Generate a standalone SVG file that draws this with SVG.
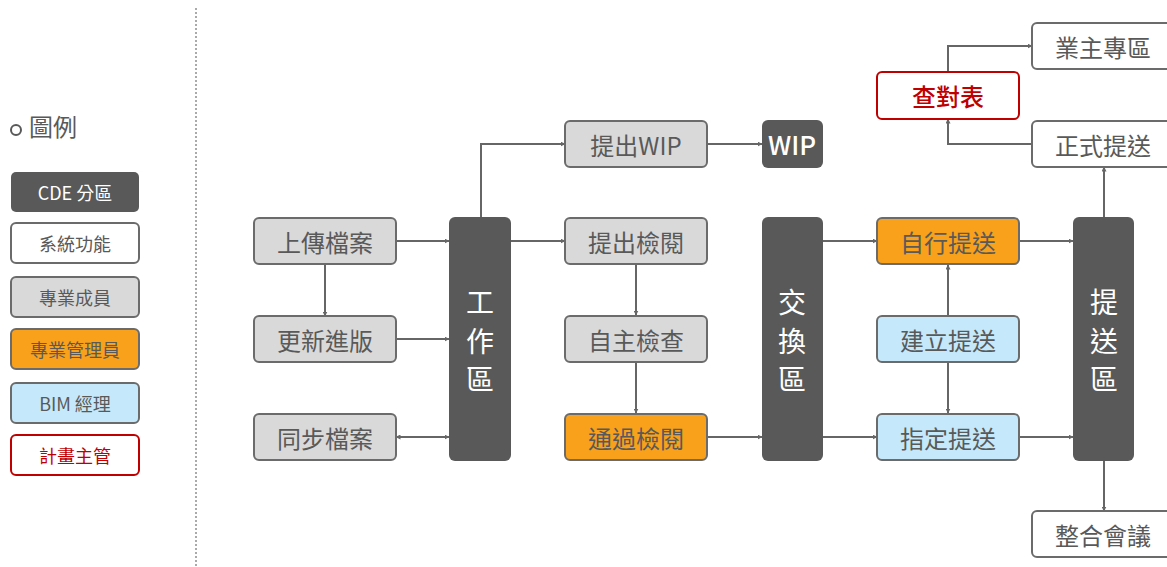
<svg xmlns="http://www.w3.org/2000/svg" width="1167" height="567" viewBox="0 0 1167 567">
<defs>
<marker id="ah" viewBox="0 0 10 10" refX="9" refY="5" markerWidth="5" markerHeight="5" orient="auto-start-reverse" markerUnits="userSpaceOnUse"><path d="M0,0 L10,5 L0,10 z" fill="#666"/></marker>
<style>
text{font-family:"Noto Sans CJK TC","Noto Sans",sans-serif;text-anchor:middle;dominant-baseline:central;}
.n rect{stroke:#6b6b6b;stroke-width:2;}
.g rect{fill:#d9d9d9;}
.w rect{fill:#fff;}
.o rect{fill:#f9a11b;}
.b rect{fill:#c5e9fb;}
.r rect{fill:#fff;stroke:#c00000;}
.d rect{fill:#595959;stroke:none;}
.n text{font-size:24px;fill:#595959;}
.r text{fill:#c00000;}
.d text{fill:#fff;font-size:28px;}
.lg text{font-size:18px;}
.c path{fill:none;stroke:#666;stroke-width:2;marker-end:url(#ah);}
</style>
</defs>
<rect width="1167" height="567" fill="#fff"/>
<line x1="196" y1="8" x2="196" y2="567" stroke="#aaa" stroke-width="2" stroke-dasharray="2,2"/>
<g id="legend">
<circle cx="16" cy="130" r="5" fill="none" stroke="#595959" stroke-width="2"/>
<text x="53" y="125" style="font-size:24px;fill:#595959">圖例</text>
<g class="n d lg"><rect x="11" y="172" width="128" height="40" rx="5"/><text x="75" y="192">CDE 分區</text></g>
<g class="n w lg"><rect x="11" y="223" width="128" height="40" rx="5"/><text x="75" y="243">系統功能</text></g>
<g class="n g lg"><rect x="11" y="277" width="128" height="40" rx="5"/><text x="75" y="297">專業成員</text></g>
<g class="n o lg"><rect x="11" y="329" width="128" height="40" rx="5"/><text x="75" y="349">專業管理員</text></g>
<g class="n b lg"><rect x="11" y="383" width="128" height="40" rx="5"/><text x="75" y="403">BIM 經理</text></g>
<g class="n r lg"><rect x="11" y="435" width="128" height="40" rx="5"/><text x="75" y="455">計畫主管</text></g>
</g>
<g id="connectors" class="c">
<path d="M396,241 H449"/>
<path d="M325,264 V316"/>
<path d="M396,339 H449"/>
<path d="M396,437 H449" marker-start="url(#ah)"/>
<path d="M481,217 V144 H565"/>
<path d="M511,241 H565"/>
<path d="M707,144 H762"/>
<path d="M636,265 V315"/>
<path d="M636,363 V413"/>
<path d="M707,437 H762"/>
<path d="M823,241 H877"/>
<path d="M823,437 H877"/>
<path d="M948,316 V265"/>
<path d="M948,363 V413"/>
<path d="M1019,241 H1073"/>
<path d="M1019,437 H1073"/>
<path d="M1104,217 V167"/>
<path d="M1104,461 V511"/>
<path d="M1032,144 H948 V119"/>
<path d="M948,72 V46 H1032"/>
</g>
<g id="n-upload" class="n g"><rect x="254" y="218" width="142" height="46" rx="5"/><text x="325" y="241">上傳檔案</text></g>
<g id="n-update" class="n g"><rect x="254" y="316" width="142" height="46" rx="5"/><text x="325" y="339">更新進版</text></g>
<g id="n-sync" class="n g"><rect x="254" y="414" width="142" height="46" rx="5"/><text x="325" y="437">同步檔案</text></g>
<g id="n-wa" class="n d"><rect x="449" y="217" width="62" height="244" rx="6"/><text x="480" y="301">工</text><text x="480" y="340">作</text><text x="480" y="378">區</text></g>
<g id="n-subwip" class="n g"><rect x="565" y="121" width="142" height="46" rx="5"/><text x="636" y="144">提出WIP</text></g>
<g id="n-wip" class="n d"><rect x="762" y="120" width="61" height="48" rx="6"/><text x="792" y="143" style="font-size:26px;font-weight:500">WIP</text></g>
<g id="n-subrev" class="n g"><rect x="565" y="218" width="142" height="46" rx="5"/><text x="636" y="241">提出檢閱</text></g>
<g id="n-self" class="n g"><rect x="565" y="316" width="142" height="46" rx="5"/><text x="636" y="339">自主檢查</text></g>
<g id="n-pass" class="n o"><rect x="565" y="414" width="142" height="46" rx="5"/><text x="636" y="437">通過檢閱</text></g>
<g id="n-ex" class="n d"><rect x="762" y="217" width="61" height="244" rx="6"/><text x="792" y="301">交</text><text x="792" y="340">換</text><text x="792" y="378">區</text></g>
<g id="n-selfsub" class="n o"><rect x="877" y="218" width="142" height="46" rx="5"/><text x="948" y="241">自行提送</text></g>
<g id="n-create" class="n b"><rect x="877" y="316" width="142" height="46" rx="5"/><text x="948" y="339">建立提送</text></g>
<g id="n-assign" class="n b"><rect x="877" y="414" width="142" height="46" rx="5"/><text x="948" y="437">指定提送</text></g>
<g id="n-sub" class="n d"><rect x="1073" y="217" width="61" height="244" rx="6"/><text x="1104" y="301">提</text><text x="1104" y="340">送</text><text x="1104" y="378">區</text></g>
<g id="n-owner" class="n w"><rect x="1032" y="23" width="142" height="46" rx="5"/><text x="1103" y="46">業主專區</text></g>
<g id="n-check" class="n r"><rect x="877" y="72" width="142" height="47" rx="5"/><text x="948" y="95" style="font-weight:500">查對表</text></g>
<g id="n-formal" class="n w"><rect x="1032" y="121" width="142" height="46" rx="5"/><text x="1103" y="144">正式提送</text></g>
<g id="n-meet" class="n w"><rect x="1032" y="511" width="142" height="46" rx="5"/><text x="1103" y="534">整合會議</text></g>
</svg>
